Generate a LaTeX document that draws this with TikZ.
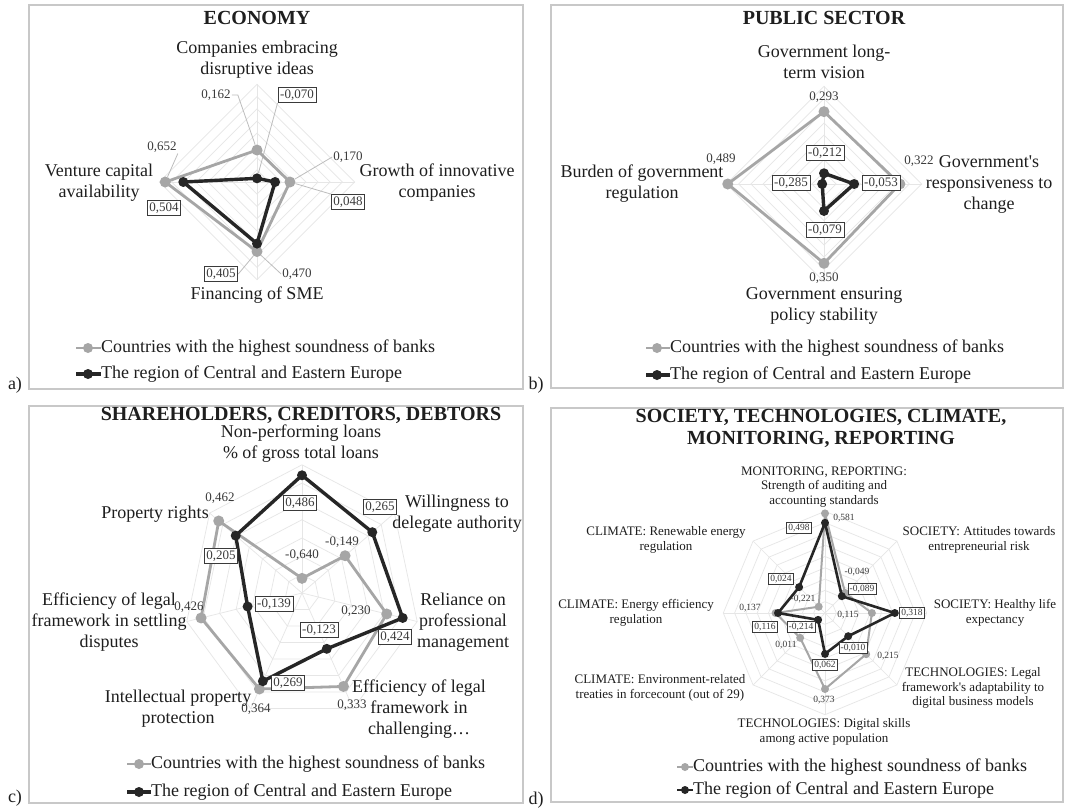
\documentclass[tikz,border=0pt]{standalone}
\usepackage{fontspec}
\setmainfont{Liberation Serif}
\definecolor{greyc}{HTML}{A6A6A6}
\definecolor{blackc}{HTML}{262626}
\definecolor{gridc}{HTML}{E6E6E6}
\definecolor{framec}{HTML}{C8C8C8}
\definecolor{txtc}{HTML}{1E1E1E}
\definecolor{vtxt}{HTML}{3A3A3A}
\definecolor{leadc}{HTML}{BDBDBD}
\pgfdeclarelayer{back}
\pgfdeclarelayer{bg}
\pgfsetlayers{back,bg,main}
\begin{document}
\begin{tikzpicture}[x=1pt,y=-1pt,
  panelbox/.style={draw=framec, line width=1.2pt},
  gridln/.style={draw=gridc, line width=0.7pt},
  leader/.style={draw=leadc, line width=0.8pt},
  gline/.style={draw=greyc, line width=2.8pt, line join=round},
  bline/.style={draw=blackc, line width=3.4pt, line join=round},
  gdot/.style={circle, fill=greyc, inner sep=0pt, minimum size=11pt},
  bdot/.style={circle, fill=blackc, inner sep=0pt, minimum size=10pt},
  glineS/.style={draw=greyc, line width=2pt, line join=round},
  blineS/.style={draw=blackc, line width=2.6pt, line join=round},
  gdotS/.style={circle, fill=greyc, inner sep=0pt, minimum size=8pt},
  bdotS/.style={circle, fill=blackc, inner sep=0pt, minimum size=8pt},
  ttl/.style={font=\bfseries\fontsize{20}{22}\selectfont, text=txtc, align=center, inner sep=0pt},
  alab/.style={font=\fontsize{18}{21}\selectfont, text=txtc, align=center, inner sep=0pt},
  slab/.style={font=\fontsize{13}{14.5}\selectfont, text=txtc, align=center, inner sep=0pt},
  vlab/.style={font=\fontsize{13}{15}\selectfont, text=vtxt, inner sep=1pt},
  vbox/.style={vlab, draw=vtxt, fill=white, line width=0.9pt, inner sep=2.2pt},
  vlabS/.style={font=\fontsize{9.5}{11}\selectfont, text=vtxt, inner sep=1pt},
  vboxS/.style={vlabS, draw=vtxt, fill=white, line width=0.8pt, inner sep=1.8pt},
  lgtext/.style={font=\fontsize{18}{21}\selectfont, text=txtc, anchor=west, inner sep=0pt},
  plab/.style={font=\fontsize{18}{21}\selectfont, text=txtc, inner sep=0pt}
]
\useasboundingbox (0,0) rectangle (1068,809);
\begin{pgfonlayer}{back}
\fill[white] (0,0) rectangle (1068,809);
\end{pgfonlayer}

% ---------- frames and panel letters
\draw[panelbox] (29,5) rectangle (523,389);
\draw[panelbox] (551,5) rectangle (1063,388);
\draw[panelbox] (29,406) rectangle (523,803);
\draw[panelbox] (551,408) rectangle (1063,802);
\node[plab] (pa) at (15,385) {a)};
\node[plab] (pb) at (536,385) {b)};
\node[plab] (pc) at (15,798) {c)};
\node[plab] (pd) at (536,800) {d)};

% =================== PANEL A: ECONOMY
\node[ttl] (ta) at (257,18) {ECONOMY};
\begin{scope}[shift={(257,182)}]
  \begin{pgfonlayer}{bg}
  \foreach \j in {1,...,8}{
    \draw[gridln] (-90:{12.2*\j}) -- (0:{12.2*\j}) -- (90:{12.2*\j}) -- (180:{12.2*\j}) -- cycle;}
  \foreach \a in {-90,0,90,180} \draw[gridln] (0,0) -- (\a:97.6);
  \end{pgfonlayer}
  \coordinate (agp0) at (-90:{122*0.262});
  \coordinate (agp1) at (0:{122*0.270});
  \coordinate (agp2) at (90:{122*0.570});
  \coordinate (agp3) at (180:{122*0.752});
  \coordinate (abp0) at (-90:{122*0.030});
  \coordinate (abp1) at (0:{122*0.148});
  \coordinate (abp2) at (90:{122*0.505});
  \coordinate (abp3) at (180:{122*0.604});
\end{scope}
\draw[gline] (agp0) -- (agp1) -- (agp2) -- (agp3) -- cycle;
\foreach \i in {0,...,3} \node[gdot] (ag\i) at (agp\i) {};
\draw[bline] (abp0) -- (abp1) -- (abp2) -- (abp3) -- cycle;
\foreach \i in {0,...,3} \node[bdot] (ab\i) at (abp\i) {};

\node[alab] (la0) at (257,60) {Companies embracing\\disruptive ideas};
\node[alab] (la1) at (437,183) {Growth of innovative\\companies};
\node[alab] (la2) at (257,295) {Financing of SME};
\node[alab] (la3) at (99,183) {Venture capital\\availability};

\node[vlab] (va1) at (216,95) {0,162};
\node[vbox] (va2) at (297,95) {-0,070};
\node[vlab] (va3) at (162,147) {0,652};
\node[vbox] (va4) at (164,208) {0,504};
\node[vlab] (va5) at (348,157) {0,170};
\node[vbox] (va6) at (348,202) {0,048};
\node[vbox] (va7) at (221,274) {0,405};
\node[vlab] (va8) at (297,274) {0,470};
\begin{pgfonlayer}{bg}
\draw[leader] (va1.east) -- ++(6,0) -- (ag0);
\draw[leader] (va2.south west) -- (ab0);
\draw[leader] (va3.south east) -- (ag3);
\draw[leader] (va5.west) -- (ag1);
\draw[leader] (va6.north west) -- (ag1);
\draw[leader] (va7.east) -- (ag2);
\draw[leader] (va8.west) -- (ag2);
\end{pgfonlayer}

\node[lgtext] (lga1) at (101,348) {Countries with the highest soundness of banks};
\node[lgtext] (lga2) at (101,374) {The region of Central and Eastern Europe};
\coordinate (lga1s) at (76,348);
\coordinate (lga2s) at (76,374);
\draw[gline] (lga1s) -- (lga1.west);
\node[gdot, minimum size=10pt] (lga1d) at (88,348) {};
\draw[bline] (lga2s) -- (lga2.west);
\node[bdot] (lga2d) at (88,374) {};

% =================== PANEL B: PUBLIC SECTOR
\node[ttl] (tb) at (824,18) {PUBLIC SECTOR};
\begin{scope}[shift={(824,184)}]
  \begin{pgfonlayer}{bg}
  \foreach \j in {1,...,8}{
    \draw[gridln] (-90:{12.2*\j}) -- (0:{12.2*\j}) -- (90:{12.2*\j}) -- (180:{12.2*\j}) -- cycle;}
  \foreach \a in {-90,0,90,180} \draw[gridln] (0,0) -- (\a:97.6);
  \end{pgfonlayer}
  \coordinate (bgp0) at (-90:{122*0.593});
  \coordinate (bgp1) at (0:{122*0.622});
  \coordinate (bgp2) at (90:{122*0.650});
  \coordinate (bgp3) at (180:{122*0.789});
  \coordinate (bbp0) at (-90:{122*0.088});
  \coordinate (bbp1) at (0:{122*0.247});
  \coordinate (bbp2) at (90:{122*0.221});
  \coordinate (bbp3) at (180:{122*0.015});
\end{scope}
\draw[gline] (bgp0) -- (bgp1) -- (bgp2) -- (bgp3) -- cycle;
\foreach \i in {0,...,3} \node[gdot] (bg\i) at (bgp\i) {};
\draw[bline] (bbp0) -- (bbp1) -- (bbp2) -- (bbp3) -- cycle;
\foreach \i in {0,...,3} \node[bdot] (bb\i) at (bbp\i) {};

\node[alab] (lb0) at (824,62) {Government long-\\term vision};
\node[alab] (lb1) at (989,184) {Government\textquotesingle s\\responsiveness to\\change};
\node[alab] (lb2) at (824,306) {Government ensuring\\policy stability};
\node[alab] (lb3) at (642,184) {Burden of government\\regulation};

\node[vlab] (vb1) at (824,97) {0,293};
\node[vlab] (vb2) at (721,159) {0,489};
\node[vlab] (vb3) at (919,161) {0,322};
\node[vlab] (vb4) at (824,278) {0,350};
\node[vbox] (vb5) at (825,153) {-0,212};
\node[vbox] (vb6) at (791,183) {-0,285};
\node[vbox] (vb7) at (881,183) {-0,053};
\node[vbox] (vb8) at (825,230) {-0,079};

\node[lgtext] (lgb1) at (670,348) {Countries with the highest soundness of banks};
\node[lgtext] (lgb2) at (670,375) {The region of Central and Eastern Europe};
\coordinate (lgb1s) at (646,348);
\coordinate (lgb2s) at (646,375);
\draw[gline] (lgb1s) -- (lgb1.west);
\node[gdot, minimum size=10pt] (lgb1d) at (657,348) {};
\draw[bline] (lgb2s) -- (lgb2.west);
\node[bdot] (lgb2d) at (657,375) {};

% =================== PANEL C: SHAREHOLDERS
\node[ttl] (tc) at (301,415) {SHAREHOLDERS, CREDITORS, DEBTORS};
\begin{scope}[shift={(302,593)}, yscale=1.085]
  \begin{pgfonlayer}{bg}
  \foreach \j in {1,...,7}{
    \draw[gridln] (-90:{16.88*\j}) \foreach \k in {1,...,6}{ -- ({-90+\k*360/7}:{16.88*\j})} -- cycle;}
  \foreach \k in {0,...,6} \draw[gridln] (0,0) -- ({-90+\k*360/7}:118.2);
  \end{pgfonlayer}
  \coordinate (cgp0) at (-90:13.5);
  \coordinate (cgp1) at (-38.571:55.1);
  \coordinate (cgp2) at (12.857:86.9);
  \coordinate (cgp3) at (64.286:95.6);
  \coordinate (cgp4) at (115.714:98.2);
  \coordinate (cgp5) at (167.143:103.5);
  \coordinate (cgp6) at (218.571:106.5);
  \coordinate (cbp0) at (-90:108.5);
  \coordinate (cbp1) at (-38.571:89.9);
  \coordinate (cbp2) at (12.857:103.3);
  \coordinate (cbp3) at (64.286:57.1);
  \coordinate (cbp4) at (115.714:90.2);
  \coordinate (cbp5) at (167.143:55.8);
  \coordinate (cbp6) at (218.571:84.8);
\end{scope}
\draw[gline] (cgp0) -- (cgp1) -- (cgp2) -- (cgp3) -- (cgp4) -- (cgp5) -- (cgp6) -- cycle;
\foreach \i in {0,...,6} \node[gdot] (cg\i) at (cgp\i) {};
\draw[bline] (cbp0) -- (cbp1) -- (cbp2) -- (cbp3) -- (cbp4) -- (cbp5) -- (cbp6) -- cycle;
\foreach \i in {0,...,6} \node[bdot] (cb\i) at (cbp\i) {};

\node[alab] (lc0) at (301,444) {Non-performing loans\\\% of gross total loans};
\node[alab] (lc1) at (457,514) {Willingness to\\delegate authority};
\node[alab] (lc2) at (463,622) {Reliance on\\professional\\management};
\node[alab] (lc3) at (419,709) {Efficiency of legal\\framework in\\challenging…};
\node[alab] (lc4) at (178,709) {Intellectual property\\protection};
\node[alab] (lc5) at (109,622) {Efficiency of legal\\framework in settling\\disputes};
\node[alab] (lc6) at (155,514) {Property rights};

\node[vlab] (vc1) at (220,498) {0,462};
\node[vbox] (vc2) at (300,503) {0,486};
\node[vbox] (vc3) at (380,507) {0,265};
\node[vlab] (vc4) at (342,542) {-0,149};
\node[vlab] (vc5) at (302,555) {-0,640};
\node[vbox] (vc6) at (221,556) {0,205};
\node[vlab] (vc7) at (189,607) {0,426};
\node[vbox] (vc8) at (274,604) {-0,139};
\node[vlab] (vc9) at (356,611) {0,230};
\node[vbox] (vc10) at (395,637) {0,424};
\node[vbox] (vc11) at (319,630) {-0,123};
\node[vbox] (vc12) at (288,683) {0,269};
\node[vlab] (vc13) at (256,709) {0,364};
\node[vlab] (vc14) at (352,705) {0,333};

\node[lgtext] (lgc1) at (151,764) {Countries with the highest soundness of banks};
\node[lgtext] (lgc2) at (151,792) {The region of Central and Eastern Europe};
\coordinate (lgc1s) at (127,764);
\coordinate (lgc2s) at (127,792);
\draw[gline] (lgc1s) -- (lgc1.west);
\node[gdot, minimum size=10pt] (lgc1d) at (139,764) {};
\draw[bline] (lgc2s) -- (lgc2.west);
\node[bdot] (lgc2d) at (139,792) {};

% =================== PANEL D: SOCIETY ...
\node[ttl] (td) at (821,428) {SOCIETY, TECHNOLOGIES, CLIMATE,\\MONITORING, REPORTING};
\begin{scope}[shift={(825,613)}]
  \begin{pgfonlayer}{bg}
  \foreach \j in {1,...,9}{
    \draw[gridln] (-90:{11.3*\j}) \foreach \k in {1,...,7}{ -- ({-90+\k*45}:{11.3*\j})} -- cycle;}
  \foreach \k in {0,...,7} \draw[gridln] (0,0) -- ({-90+\k*45}:101.7);
  \end{pgfonlayer}
  \coordinate (dgp0) at (-90:99.6);
  \coordinate (dgp1) at (-45:28.4);
  \coordinate (dgp2) at (0:46.9);
  \coordinate (dgp3) at (45:58.2);
  \coordinate (dgp4) at (90:76.0);
  \coordinate (dgp5) at (135:35.1);
  \coordinate (dgp6) at (180:49.4);
  \coordinate (dgp7) at (225:8.9);
  \coordinate (dbp0) at (-90:90.2);
  \coordinate (dbp1) at (-45:23.8);
  \coordinate (dbp2) at (0:69.8);
  \coordinate (dbp3) at (45:32.8);
  \coordinate (dbp4) at (90:40.9);
  \coordinate (dbp5) at (135:9.7);
  \coordinate (dbp6) at (180:47.0);
  \coordinate (dbp7) at (225:36.6);
\end{scope}
\draw[glineS] (dgp0) -- (dgp1) -- (dgp2) -- (dgp3) -- (dgp4) -- (dgp5) -- (dgp6) -- (dgp7) -- cycle;
\foreach \i in {0,...,7} \node[gdotS] (dg\i) at (dgp\i) {};
\draw[blineS] (dbp0) -- (dbp1) -- (dbp2) -- (dbp3) -- (dbp4) -- (dbp5) -- (dbp6) -- (dbp7) -- cycle;
\foreach \i in {0,...,7} \node[bdotS] (db\i) at (dbp\i) {};

\node[slab] (ld0) at (824,487) {MONITORING, REPORTING:\\Strength of auditing and\\accounting standards};
\node[slab] (ld1) at (979,540) {SOCIETY: Attitudes towards\\entrepreneurial risk};
\node[slab] (ld2) at (995,613) {SOCIETY: Healthy life\\expectancy};
\node[slab] (ld3) at (973,688) {TECHNOLOGIES: Legal\\framework\textquotesingle s adaptability to\\digital business models};
\node[slab] (ld4) at (824,732) {TECHNOLOGIES: Digital skills\\among active population};
\node[slab] (ld5) at (660,688) {CLIMATE: Environment-related\\treaties in forcecount (out of 29)};
\node[slab] (ld6) at (636,613) {CLIMATE: Energy efficiency\\regulation};
\node[slab] (ld7) at (666,540) {CLIMATE: Renewable energy\\regulation};

\node[vlabS] (vd1) at (844,518) {0,581};
\node[vboxS] (vd2) at (799,528) {0,498};
\node[vlabS] (vd3) at (857,572) {-0,049};
\node[vboxS] (vd4) at (862,589) {-0,089};
\node[vboxS] (vd5) at (781,579) {0,024};
\node[vlabS] (vd6) at (803,599) {-0,221};
\node[vlabS] (vd7) at (750,608) {0,137};
\node[vlabS] (vd8) at (848,615) {0,115};
\node[vboxS] (vd9) at (912,613) {0,318};
\node[vboxS] (vd10) at (765,627) {0,116};
\node[vboxS] (vd11) at (801,627) {-0,214};
\node[vlabS] (vd12) at (786,645) {0,011};
\node[vboxS] (vd13) at (853,648) {-0,010};
\node[vlabS] (vd14) at (888,656) {0,215};
\node[vboxS] (vd15) at (825,665) {0,062};
\node[vlabS] (vd16) at (824,700) {0,373};

\node[lgtext] (lgd1) at (693,767) {Countries with the highest soundness of banks};
\node[lgtext] (lgd2) at (693,790) {The region of Central and Eastern Europe};
\coordinate (lgd1s) at (677,767);
\coordinate (lgd2s) at (677,790);
\draw[glineS] (lgd1s) -- (lgd1.west);
\node[gdotS] (lgd1d) at (685,767) {};
\draw[blineS] (lgd2s) -- (lgd2.west);
\node[bdotS] (lgd2d) at (685,790) {};
\end{tikzpicture}
\end{document}
